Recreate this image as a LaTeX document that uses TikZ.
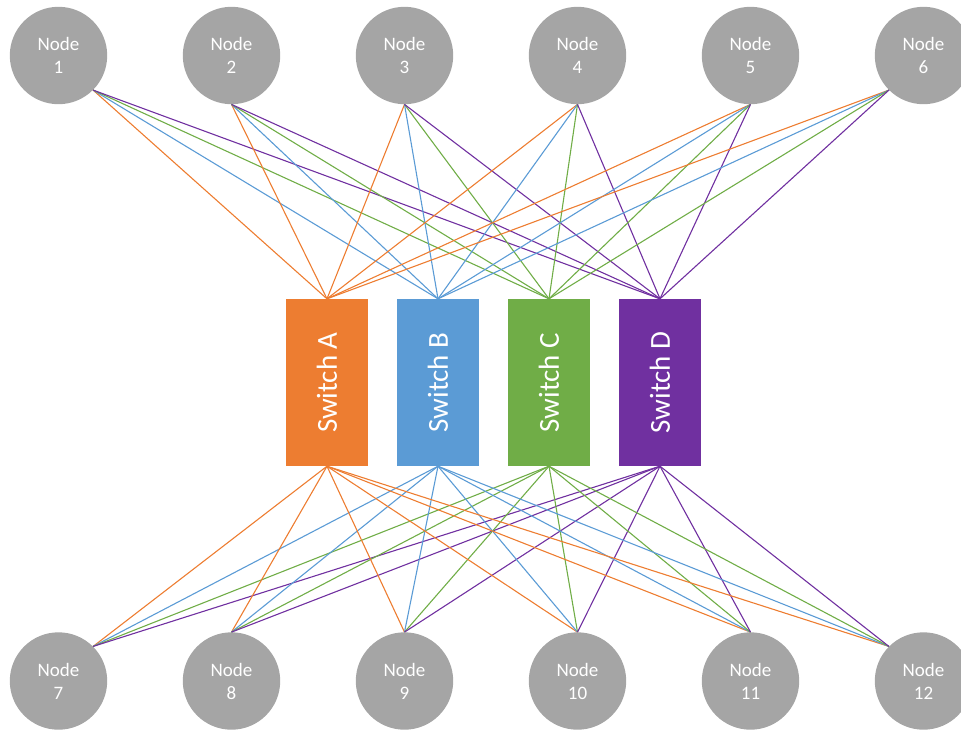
\documentclass[tikz,border=0pt]{standalone}
\usepackage{fontspec}
\setmainfont{Carlito}
\definecolor{swOrange}{HTML}{ED7D31}
\definecolor{swBlue}{HTML}{5B9BD5}
\definecolor{swGreen}{HTML}{70AD47}
\definecolor{swPurple}{HTML}{7030A0}
\definecolor{hostGray}{HTML}{A5A5A5}

\begin{document}
\begin{tikzpicture}[x=1pt,y=-1pt,
  host/.style={circle,fill=hostGray,minimum size=97.4pt,inner sep=0pt,text=white,align=center,font=\fontsize{19}{23}\selectfont},
  switch/.style={rectangle,minimum width=82pt,minimum height=167pt,inner sep=0pt,text=white,font=\fontsize{29}{34}\selectfont},
  link/.style={line width=1.1pt}]
\useasboundingbox (0,0) rectangle (961,729);
% hosts, top and bottom rows
\foreach \i in {1,...,6}
  \node[host] (n\i) at ({58.5+173*(\i-1)},55.5) {Node\\\i};
\foreach \i in {7,...,12}
  \node[host] (n\i) at ({58.5+173*(\i-7)},681) {Node\\\i};
% switches
\foreach \s/\c [count=\k] in {A/swOrange,B/swBlue,C/swGreen,D/swPurple}
  \node[switch,fill=\c] (sw\s) at ({327+111*(\k-1)},382.5) {\rotatebox{90}{Switch \s}};
% links
\foreach \i/\a in {1/-45,2/south,3/south,4/south,5/south,6/-135}
  \foreach \s/\c in {A/swOrange,B/swBlue,C/swGreen,D/swPurple}
    \draw[link,\c] (n\i.\a) -- (sw\s.north);
\foreach \i/\a in {7/45,8/north,9/north,10/north,11/north,12/135}
  \foreach \s/\c in {A/swOrange,B/swBlue,C/swGreen,D/swPurple}
    \draw[link,\c] (n\i.\a) -- (sw\s.south);
\end{tikzpicture}
\end{document}
